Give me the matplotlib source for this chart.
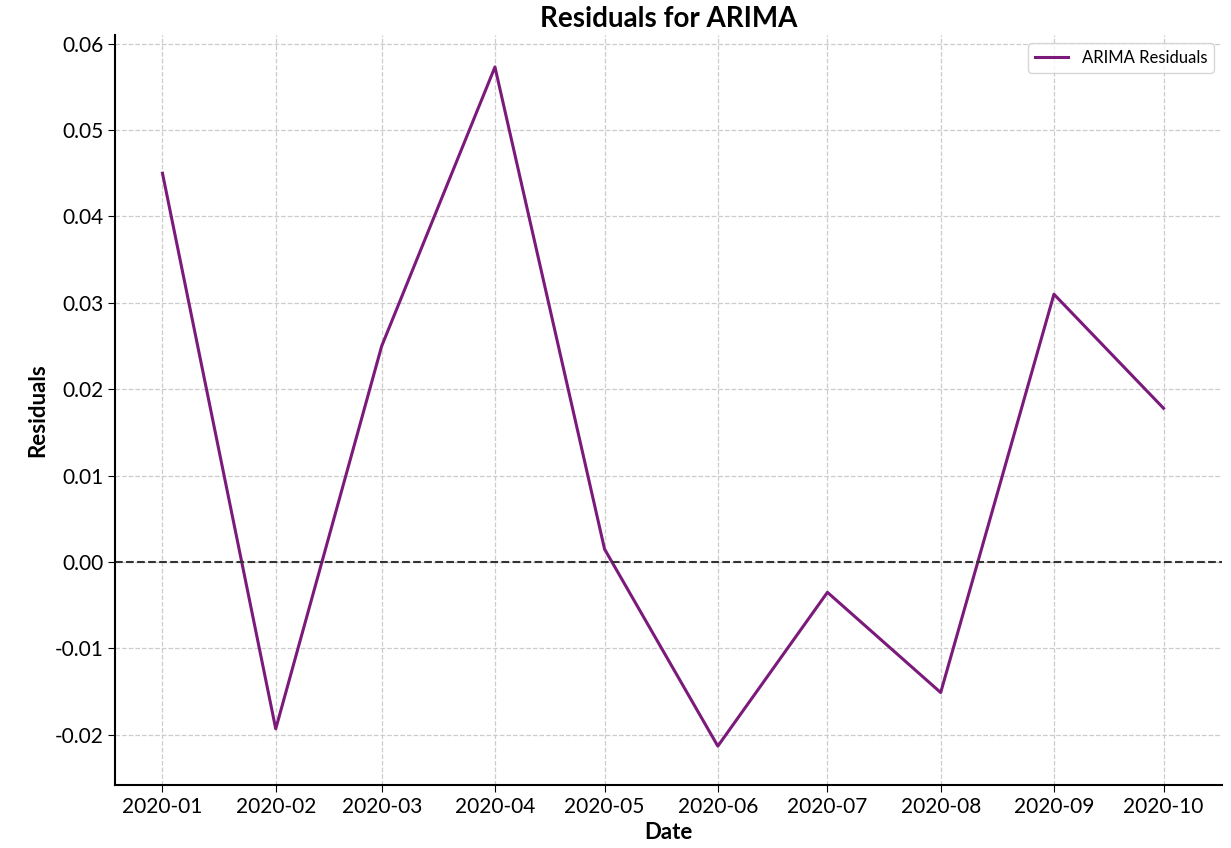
import matplotlib
matplotlib.use("Agg")
import matplotlib.pyplot as plt
import matplotlib.dates as mdates
import pandas as pd

dates = pd.to_datetime(["2020-01-01","2020-02-01","2020-03-01","2020-04-01","2020-05-01",
                        "2020-06-01","2020-07-01","2020-08-01","2020-09-01","2020-10-01"])
residuals = [0.045, -0.0193, 0.025, 0.0573, 0.0015, -0.0213, -0.0035, -0.0151, 0.031, 0.0178]
yticks = [-0.02, -0.01, 0.00, 0.01, 0.02, 0.03, 0.04, 0.05, 0.06]

plt.rcParams['font.family'] = ['Lato', 'DejaVu Sans']
fig = plt.figure(figsize=(12.31, 8.48), dpi=100)
ax = fig.add_axes([0.0934, 0.0743, 0.8993, 0.8844])
ax.plot(dates, residuals, color='#7B1A7B', lw=2.2, label='ARIMA Residuals')
ax.axhline(0, color='#333333', ls='--', lw=1.5)
ax.set_xlim(pd.Timestamp("2019-12-19"), pd.Timestamp("2020-10-17"))
ax.set_ylim(-0.0258, 0.061)
ax.set_yticks(yticks)
ax.set_yticklabels([f"{v:.2f}" for v in yticks])
ax.set_xticks(dates)
ax.xaxis.set_major_formatter(mdates.DateFormatter("%Y-%m"))
ax.tick_params(labelsize=15, length=5)
ax.grid(True, ls='--', color='#cccccc', lw=0.9)
for s in ['top', 'right']:
    ax.spines[s].set_visible(False)
ax.spines['left'].set_linewidth(1.5)
ax.spines['bottom'].set_linewidth(1.5)
ax.set_title("Residuals for ARIMA", fontsize=20, fontweight='bold', pad=6)
ax.set_xlabel("Date", fontsize=16, fontweight='bold')
ax.set_ylabel("Residuals", fontsize=16, fontweight='bold')
ax.legend(loc='upper right', fontsize=12, frameon=True)
fig.savefig("out.png", dpi=100)
